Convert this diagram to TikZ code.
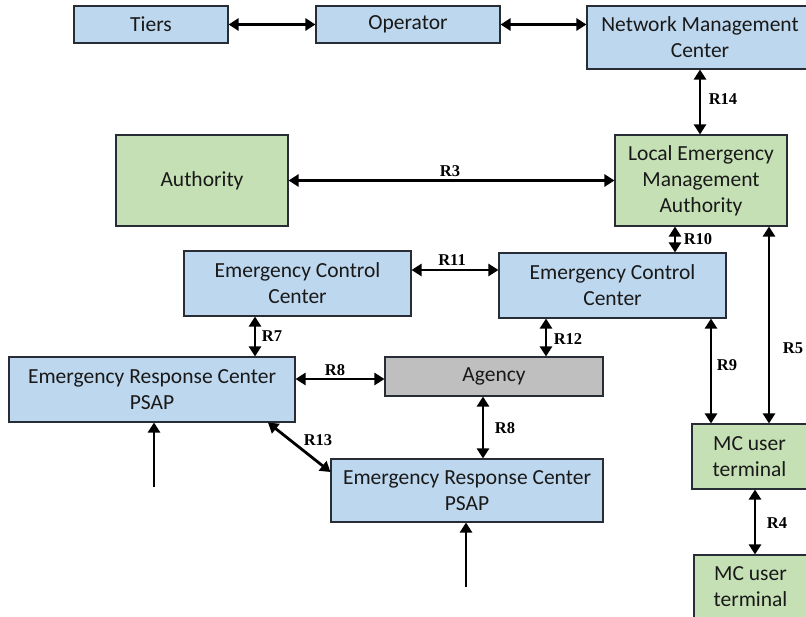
\documentclass[tikz,border=0pt]{standalone}
\usepackage{fontspec}
\setmainfont{Carlito}
\newfontfamily\lblfont{Liberation Serif}
\usetikzlibrary{arrows.meta}
\definecolor{bfill}{RGB}{189,215,238}
\definecolor{gfill}{RGB}{197,224,180}
\definecolor{afill}{RGB}{191,191,191}
\definecolor{edgec}{RGB}{40,44,52}
\tikzset{
  box/.style={draw=edgec, line width=1.1pt, rectangle, align=center, inner sep=0pt,
    font=\fontsize{21.5}{26}\selectfont, text=black!90},
  bluebox/.style={box, fill=bfill},
  greenbox/.style={box, fill=gfill},
  graybox/.style={box, fill=afill},
  arr/.style={line width=2.8pt, {Triangle[length=10pt,width=12pt]}-{Triangle[length=10pt,width=12pt]}},
  arrone/.style={line width=2.8pt, -{Triangle[length=10pt,width=12pt]}},
  lbl/.style={font=\lblfont\bfseries\fontsize{16.5}{18}\selectfont, inner sep=0pt}
}
\begin{document}
\begin{tikzpicture}[x=1pt,y=-1pt]
\useasboundingbox (0,0) rectangle (806,617);
\clip (0,0) rectangle (806,617);
\fill[white] (0,0) rectangle (806,617);
% boxes
\node[bluebox, minimum width=154pt, minimum height=37pt] (tiers) at (151,24.5) {Tiers};
\node[bluebox, minimum width=184pt, minimum height=37pt] (oper) at (408,24.5) {Operator};
\node[bluebox, minimum width=226pt, minimum height=63pt] (nmc) at (700,37.5) {Network Management\\Center};
\node[greenbox, minimum width=172pt, minimum height=91pt] (auth) at (202,180.5) {Authority};
\node[greenbox, minimum width=172pt, minimum height=91pt] (lema) at (701,180.5) {Local Emergency\\Management\\Authority};
\node[bluebox, minimum width=227pt, minimum height=65pt] (eccL) at (297.5,283.5) {Emergency Control\\Center};
\node[bluebox, minimum width=227pt, minimum height=65pt] (eccR) at (612.5,285.5) {Emergency Control\\Center};
\node[bluebox, minimum width=286pt, minimum height=65pt] (ercL) at (152,389.5) {Emergency Response Center\\PSAP};
\node[graybox, minimum width=218pt, minimum height=39pt] (agency) at (494,376.5) {Agency};
\node[bluebox, minimum width=272pt, minimum height=63pt] (ercB) at (467,490.5) {Emergency Response Center\\PSAP};
\node[greenbox, minimum width=115pt, minimum height=65pt] (mc1) at (749.5,456.5) {MC user\\terminal};
\node[greenbox, minimum width=113pt, minimum height=64pt] (mc2) at (750.5,587) {MC user\\terminal};
% connectors
\draw[arr] (tiers.east) -- (oper.west);
\draw[arr] (oper.east) -- (oper.east -| nmc.west);
\draw[arr] (nmc.south) -- (nmc.south |- lema.north);
\draw[arr] (auth.east) -- (lema.west);
\draw[arr] (lema.south -| 675,0) -- (eccR.north -| 675,0);
\draw[arr] (eccL.east |- 0,270) -- (eccR.west |- 0,270);
\draw[arr] (eccR.south -| 546,0) -- (agency.north -| 546,0);
\draw[arr] (eccL.south -| 255,0) -- (ercL.north -| 255,0);
\draw[arr] (ercL.east |- 0,379) -- (agency.west |- 0,379);
\draw[arr] (agency.south -| 483,0) -- (ercB.north -| 483,0);
\draw[arr] (ercL.south -| 268,0) -- (ercB.west |- 0,472);
\coordinate (inL) at (154,487);
\coordinate (inB) at (466,587);
\draw[arrone] (inL) -- (ercL.south -| inL);
\draw[arrone] (inB) -- (ercB.south -| inB);
\draw[arr] (eccR.south -| 711,0) -- (mc1.north -| 711,0);
\draw[arr] (lema.south -| 769,0) -- (mc1.north -| 769,0);
\draw[arr] (mc1.south -| 755,0) -- (mc2.north -| 755,0);
% labels
\node[lbl] (l14) at (723,99) {R14};
\node[lbl] (l3) at (450,171) {R3};
\node[lbl] (l10) at (698,239) {R10};
\node[lbl] (l11) at (452,260) {R11};
\node[lbl] (l12) at (568,339) {R12};
\node[lbl] (l7) at (272,336) {R7};
\node[lbl] (l8a) at (335,370) {R8};
\node[lbl] (l8b) at (505,428) {R8};
\node[lbl] (l13) at (318,440) {R13};
\node[lbl] (l9) at (727,365) {R9};
\node[lbl] (l5) at (793,348) {R5};
\node[lbl] (l4) at (777,523) {R4};
\end{tikzpicture}
\end{document}
